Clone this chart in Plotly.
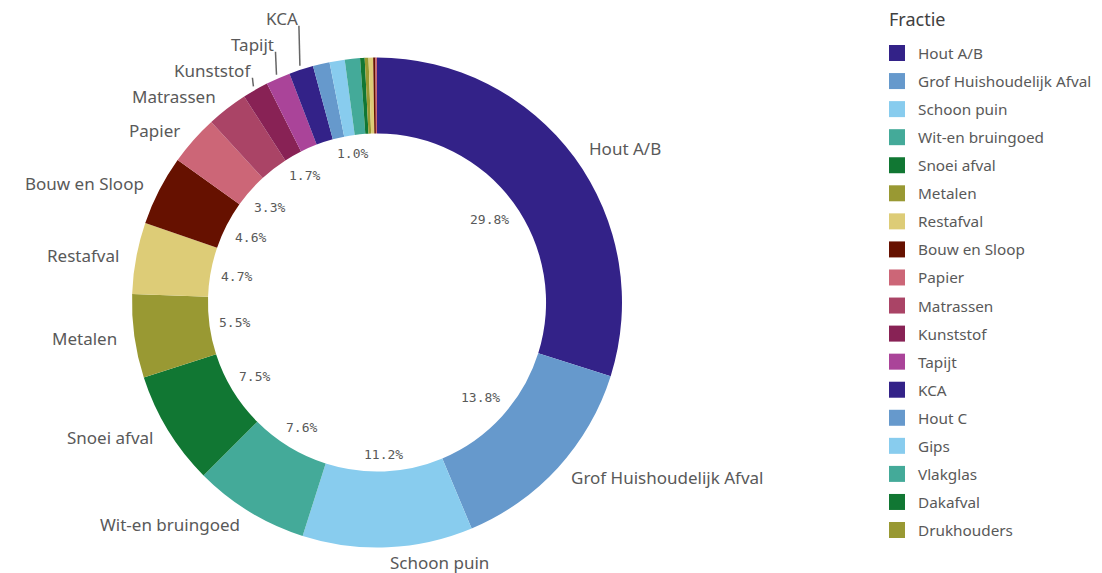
import math
import plotly.graph_objects as go

# ---------------- data ----------------
fracties = [
    "Hout A/B", "Grof Huishoudelijk Afval", "Schoon puin", "Wit-en bruingoed",
    "Snoei afval", "Metalen", "Restafval", "Bouw en Sloop", "Papier",
    "Matrassen", "Kunststof", "Tapijt", "KCA", "Hout C", "Gips", "Vlakglas",
    "Dakafval", "Drukhouders",
]
waarden = [29.8, 13.8, 11.2, 7.6, 7.5, 5.5, 4.7, 4.6, 3.3,
           2.7, 1.7, 1.6, 1.6, 1.1, 1.0, 1.0, 0.3, 0.25]
# percentage label shown inside the hole (as in the reference)
toon_percentage = [True, True, True, True, True, True, True, True, True,
                   False, True, False, False, False, True, False, False, False]
# tiny trailing slices whose legend entries are cut off in the reference
overige_waarden = [0.3, 0.15, 0.1]

palette = ["#332288", "#6699CC", "#88CCEE", "#44AA99", "#117733", "#999933",
           "#DDCC77", "#661100", "#CC6677", "#AA4466", "#882255", "#AA4499"]

# ---------------- layout constants ----------------
VIEW_W, VIEW_H = 1102, 573
OFF = 8                      # page body margin
W, H = VIEW_W - OFF, VIEW_H - OFF
CX, CY, R = 377.0, 302.5, 245.0
HOLE = 0.69
TXT = "#595959"
LABEL_FONT = "Noto Sans"


def px(x):
    return (x - OFF) / W


def py(y):
    return 1 - (y - OFF) / H


alle_waarden = waarden + overige_waarden
kleuren = [palette[i % len(palette)] for i in range(len(alle_waarden))]
total = sum(alle_waarden)

fig = go.Figure()
fig.add_trace(go.Pie(
    values=alle_waarden,
    marker=dict(colors=kleuren, line=dict(width=0)),
    hole=HOLE,
    sort=False,
    direction="clockwise",
    rotation=0,
    textinfo="none",
    showlegend=False,
    hoverinfo="skip",
    domain=dict(x=[px(CX - R), px(CX + R)], y=[py(CY + R), py(CY - R)]),
))

annotations = []
shapes = []

# mid angles
mids = []
cum = 0.0
for v in alle_waarden:
    mids.append(2 * math.pi * (cum + v / 2) / total)
    cum += v

# ---------------- outside category labels ----------------
R_LAB = R + 15
SPACING = 26
prev_left_y = None
for i, naam in enumerate(fracties):
    if waarden[i] < 1.5:
        continue
    th = mids[i]
    ux, uy = math.sin(th), -math.cos(th)
    x, y = CX + R_LAB * ux, CY + R_LAB * uy
    if th < math.pi:
        annotations.append(dict(x=px(x), y=py(y), xref="paper", yref="paper",
                                text=naam, showarrow=False, xanchor="left",
                                yanchor="middle",
                                font=dict(family=LABEL_FONT, size=17, color=TXT)))
    else:
        if prev_left_y is not None and prev_left_y - y < SPACING:
            y = prev_left_y - SPACING
            rx, ry = CX + (R + 4) * ux, CY + (R + 4) * uy
            x = rx
            shapes.append(dict(type="line", xref="paper", yref="paper",
                               x0=px(rx), y0=py(ry), x1=px(x - 1), y1=py(y + 7),
                               line=dict(color="#666666", width=1.5)))
        annotations.append(dict(x=px(x), y=py(y), xref="paper", yref="paper",
                                text=naam, showarrow=False, xanchor="right",
                                yanchor="middle",
                                font=dict(family=LABEL_FONT, size=17, color=TXT)))
        prev_left_y = y

# ---------------- percentage labels inside the hole ----------------
R_IN = R * HOLE
CHAR_W = 7.9
TXT_H = 14
for i, v in enumerate(waarden):
    if not toon_percentage[i]:
        continue
    s = f"{v:.1f}%"
    th = mids[i]
    ux, uy = math.sin(th), -math.cos(th)
    w = CHAR_W * len(s)
    ext = abs(w / 2 * ux) + abs(TXT_H / 2 * uy)
    r = R_IN - 9 - ext
    annotations.append(dict(x=px(CX + r * ux), y=py(CY + r * uy), xref="paper",
                            yref="paper", text=s, showarrow=False,
                            xanchor="center", yanchor="middle",
                            font=dict(family="DejaVu Sans Mono", size=13, color=TXT)))

# ---------------- legend ----------------
LEG_X, LEG_Y0, LEG_DY, SQ = 889, 53, 28.06, 16
annotations.append(dict(x=px(LEG_X - 1), y=py(19), xref="paper", yref="paper",
                        text="Fractie", showarrow=False, xanchor="left",
                        yanchor="middle", borderpad=0,
                        font=dict(family=LABEL_FONT, size=18, color="#404040")))
for i, naam in enumerate(fracties):
    yc = LEG_Y0 + i * LEG_DY
    shapes.append(dict(type="rect", xref="paper", yref="paper",
                       x0=px(LEG_X), x1=px(LEG_X + SQ),
                       y0=py(yc + SQ / 2), y1=py(yc - SQ / 2),
                       fillcolor=kleuren[i], line=dict(width=0)))
    annotations.append(dict(x=px(LEG_X + 27), y=py(yc), xref="paper", yref="paper",
                            text=naam, showarrow=False, xanchor="left",
                            yanchor="middle",
                            font=dict(family=LABEL_FONT, size=15.3, color=TXT)))

fig.update_layout(
    width=W, height=H,
    margin=dict(l=0, r=0, t=0, b=0),
    paper_bgcolor="white",
    plot_bgcolor="white",
    annotations=annotations,
    shapes=shapes,
    showlegend=False,
)

fig.write_html("out.html")
